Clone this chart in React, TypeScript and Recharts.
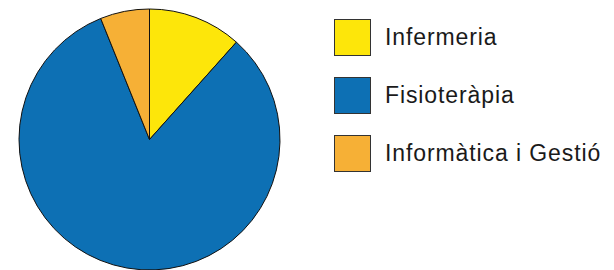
import React from "react"
import { PieChart, Pie, Cell, Legend } from "recharts"

const labels = ["Infermeria", "Fisioteràpia", "Informàtica i Gestió"]
const values = [11.6, 82.3, 6.1]
const colors = ["#FDE60A", "#0D70B4", "#F6B036"]

const data = labels.map((name, i) => ({ name, value: values[i] }))

const LegendBox = () => (
  <div style={{ fontFamily: "'Liberation Sans', Arial, sans-serif" }}>
    {labels.map((name, i) => (
      <div
        key={name}
        style={{ display: "flex", alignItems: "center", height: 37, marginBottom: i < labels.length - 1 ? 21 : 0 }}
      >
        <div
          style={{
            width: 35,
            height: 35,
            background: colors[i],
            border: "1px solid #333",
            marginRight: 14,
          }}
        />
        <span style={{ fontSize: 23, letterSpacing: 0.9, color: "#1a1a1a" }}>{name}</span>
      </div>
    ))}
  </div>
)

export default function App() {
  return (
    <div style={{ position: "absolute", left: 0, top: 0, background: "#fff" }}>
      <PieChart width={614} height={270} margin={{ top: 0, right: 0, bottom: 0, left: 0 }}>
        <Pie
          data={data}
          dataKey="value"
          nameKey="name"
          cx={149.5}
          cy={139.5}
          outerRadius={130.5}
          startAngle={90}
          endAngle={-270}
          stroke="#111"
          strokeWidth={1}
          isAnimationActive={false}
        >
          {data.map((d, i) => (
            <Cell key={d.name} fill={colors[i]} />
          ))}
        </Pie>
        <Legend
          content={<LegendBox />}
          wrapperStyle={{ left: 334, top: 19, width: 280 }}
        />
      </PieChart>
    </div>
  )
}
